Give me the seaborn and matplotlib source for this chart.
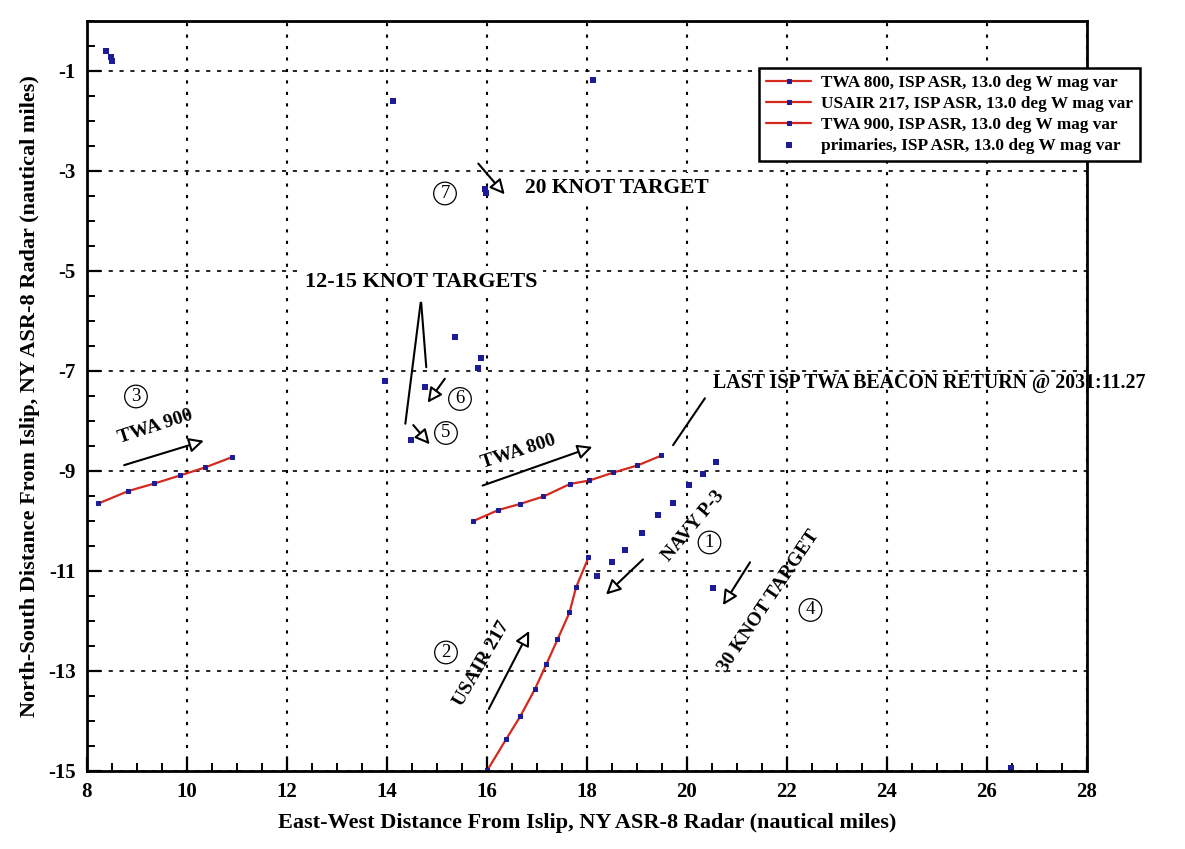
import numpy as np
import pandas as pd
import matplotlib
matplotlib.use("Agg")
import matplotlib.pyplot as plt
import seaborn as sns

# track data (nautical miles from Islip ASR-8)
twa800_x = [15.73, 16.23, 16.66, 17.13, 17.66, 18.05, 18.53, 19.01, 19.49]
twa800_y = [-10.00, -9.78, -9.66, -9.51, -9.26, -9.19, -9.03, -8.89, -8.69]

usair217_x = [16.01, 16.38, 16.67, 16.96, 17.19, 17.41, 17.65, 17.78, 18.03]
usair217_y = [-14.98, -14.37, -13.90, -13.36, -12.86, -12.37, -11.83, -11.33, -10.73]

twa900_x = [8.23, 8.83, 9.35, 9.86, 10.36, 10.91]
twa900_y = [-9.65, -9.40, -9.25, -9.09, -8.93, -8.72]

primaries_x = [8.39, 8.49, 8.51, 14.13, 18.13, 15.96, 15.98,
               15.36, 15.88, 15.83, 13.96, 14.76, 14.49,
               20.59, 20.33, 20.05, 19.73, 19.43, 19.11, 18.77, 18.51, 18.21,
               20.53, 26.49]
primaries_y = [-0.61, -0.73, -0.81, -1.60, -1.19, -3.37, -3.45,
               -6.33, -6.75, -6.95, -7.20, -7.33, -8.38,
               -8.83, -9.06, -9.29, -9.65, -9.88, -10.25, -10.58, -10.83, -11.11,
               -11.35, -14.95]

legend_labels = ["TWA 800, ISP ASR, 13.0 deg W mag var",
                 "USAIR 217, ISP ASR, 13.0 deg W mag var",
                 "TWA 900, ISP ASR, 13.0 deg W mag var",
                 "primaries, ISP ASR, 13.0 deg W mag var"]

sns.set_style("white")
plt.rcParams['font.family'] = ['Liberation Serif', 'DejaVu Serif']
plt.rcParams['font.weight'] = 'bold'
plt.rcParams['axes.labelweight'] = 'bold'
plt.rcParams['axes.unicode_minus'] = False
for k in ['text.color', 'axes.labelcolor', 'xtick.color', 'ytick.color']:
    plt.rcParams[k] = 'black'

fig = plt.figure(figsize=(11.85, 8.49), dpi=100)
ax = fig.add_axes([0.0734, 0.0919, 0.8439, 0.8834])

line_red = '#d42a1e'
navy = '#1c1c96'
tracks = [(twa800_x, twa800_y), (usair217_x, usair217_y), (twa900_x, twa900_y)]
for (tx, ty), lab in zip(tracks, legend_labels[:3]):
    df = pd.DataFrame({'x': tx, 'y': ty})
    sns.lineplot(data=df, x='x', y='y', sort=False, estimator=None, ax=ax,
                 color=line_red, lw=1.6, marker='s', markersize=3.5,
                 markerfacecolor=navy, markeredgecolor=navy, label=lab)

prim = pd.DataFrame({'x': primaries_x, 'y': primaries_y})
sns.scatterplot(data=prim, x='x', y='y', ax=ax, marker='s', s=22,
                color=navy, edgecolor=navy, linewidth=0, label=legend_labels[3])

ax.set_xlim(8, 28)
ax.set_ylim(-15, 0)
ax.set_xticks(np.arange(8, 29, 2))
ax.set_yticks(np.arange(-15, 0, 2))
ax.set_xticks(np.arange(8, 28.01, 0.5), minor=True)
ax.set_yticks(np.arange(-15, 0.01, 0.5), minor=True)
ax.tick_params(which='major', direction='in', length=10, width=1.6,
               labelsize=15, bottom=True, left=True, top=False, right=False, pad=8)
ax.tick_params(which='minor', direction='in', length=6, width=1.4,
               bottom=True, left=True, top=False, right=False)
for lbl in ax.get_xticklabels() + ax.get_yticklabels():
    lbl.set_fontweight('bold')

ax.xaxis.grid(True, which='major', color='black', linestyle=(0, (1.5, 4)), lw=1.5)
ax.yaxis.grid(True, which='major', color='black', linestyle=(0, (2.5, 4)), lw=1.2)
for sp in ax.spines.values():
    sp.set_color('black')
    sp.set_linewidth(2)

ax.set_xlabel('East-West Distance From Islip, NY ASR-8 Radar (nautical miles)',
              fontsize=16, fontweight='bold', labelpad=8)
ax.set_ylabel('North-South Distance From Islip, NY ASR-8 Radar (nautical miles)',
              fontsize=16, fontweight='bold', labelpad=6)

leg = ax.legend(loc='upper left', bbox_to_anchor=(0.6405, 0.92),
                bbox_transform=fig.transFigure, frameon=True, fancybox=False,
                framealpha=1, edgecolor='black', fontsize=12.4, handlelength=2.6,
                borderpad=0.42, labelspacing=0.28, handletextpad=0.6,
                borderaxespad=0)
leg.get_frame().set_linewidth(1.8)
for t in leg.get_texts():
    t.set_fontweight('bold')

# annotations
afs = 14
hollow = dict(arrowstyle='-|>', fc='white', ec='black', lw=1.5, mutation_scale=22)
plain = dict(arrowstyle='-', color='black', lw=1.5)
circ = dict(boxstyle='circle,pad=0.15', fc='white', ec='black', lw=0.9)
blank = dict(boxstyle='square,pad=0.25', fc='white', ec='none')


def circled(x, y, s):
    ax.text(x, y, s, ha='center', va='center', fontsize=13.5,
            fontweight='normal', bbox=circ, zorder=6)


ax.text(9.36, -8.11, 'TWA 900', rotation=18, ha='center', va='center',
        fontsize=afs, fontweight='bold')
ax.annotate('', xy=(10.39, -8.38), xytext=(8.69, -8.90), arrowprops=hollow)
circled(8.98, -7.51, '3')

ax.text(14.68, -5.22, '12-15 KNOT TARGETS', ha='center', va='center',
        fontsize=16, fontweight='bold', bbox=blank)
ax.annotate('', xy=(14.36, -8.11), xytext=(14.68, -5.58), arrowprops=plain)
ax.annotate('', xy=(14.79, -6.98), xytext=(14.68, -5.58), arrowprops=plain)
ax.annotate('', xy=(14.78, -7.68), xytext=(15.19, -7.11), arrowprops=hollow)
ax.annotate('', xy=(14.89, -8.51), xytext=(14.49, -8.04), arrowprops=hollow)
circled(15.46, -7.56, '6')
circled(15.18, -8.24, '5')

circled(15.16, -3.45, '7')
ax.annotate('', xy=(16.39, -3.51), xytext=(15.79, -2.81), arrowprops=hollow)
ax.text(16.76, -3.35, '20 KNOT TARGET', ha='left', va='center',
        fontsize=15.5, fontweight='bold', bbox=blank)

ax.text(16.62, -8.61, 'TWA 800', rotation=18, ha='center', va='center',
        fontsize=afs, fontweight='bold')
ax.annotate('', xy=(18.16, -8.50), xytext=(15.86, -9.31), arrowprops=hollow)

ax.text(20.52, -7.24, 'LAST ISP TWA BEACON RETURN @ 2031:11.27', ha='left',
        va='center', fontsize=14.3, fontweight='bold', clip_on=False)
ax.annotate('', xy=(19.69, -8.53), xytext=(20.39, -7.50), arrowprops=plain)

ax.text(20.13, -10.11, 'NAVY P-3', rotation=50, ha='center', va='center',
        fontsize=afs, fontweight='bold')
ax.annotate('', xy=(18.34, -11.51), xytext=(19.16, -10.73), arrowprops=hollow)
circled(20.45, -10.43, '1')

ax.text(21.63, -11.61, '30 KNOT TARGET', rotation=56, ha='center', va='center',
        fontsize=afs, fontweight='bold')
ax.annotate('', xy=(20.69, -11.73), xytext=(21.29, -10.78), arrowprops=hollow)
circled(22.47, -11.78, '4')

circled(15.18, -12.63, '2')
ax.text(15.89, -12.85, 'USAIR 217', rotation=60, ha='center', va='center',
        fontsize=afs, fontweight='bold')
ax.annotate('', xy=(16.87, -12.15), xytext=(16.01, -13.81), arrowprops=hollow)

fig.savefig('out.png', dpi=100)
plt.close(fig)
